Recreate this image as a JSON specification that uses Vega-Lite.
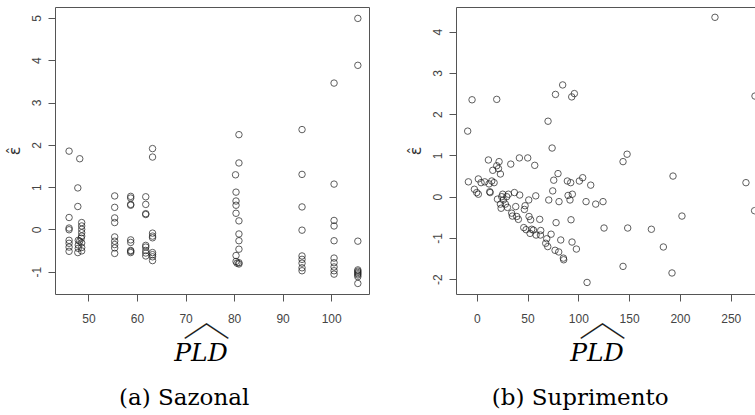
{
  "$schema": "https://vega.github.io/schema/vega-lite/v6.json",
  "padding": {"left": 5, "top": 6, "right": 0, "bottom": 0},
  "background": "white",
  "spacing": 37,
  "config": {
    "view": {"stroke": null},
    "axis": {
      "labelFont": "Liberation Sans", "labelFontSize": 12, "labelColor": "#444",
      "tickColor": "#555", "domainColor": "#555", "grid": false, "tickSize": 7,
      "titleFont": "Liberation Sans", "titleFontWeight": "normal", "titleColor": "#333"
    },
    "title": {
      "orient": "bottom", "anchor": "middle", "frame": "group",
      "font": "DejaVu Serif", "fontStyle": "italic", "fontSize": 25, "fontWeight": "normal", "color": "black",
      "subtitleFont": "DejaVu Serif", "subtitleFontStyle": "normal", "subtitleFontSize": 23, "subtitleColor": "black",
      "subtitlePadding": 21, "offset": -3
    }
  },
  "datasets": {
    "sazonal": [
      {"pld": 46.0, "res": 1.85}, {"pld": 46.0, "res": 0.28}, {"pld": 46.0, "res": 0.03}, {"pld": 46.0, "res": -0.01},
      {"pld": 46.0, "res": -0.26}, {"pld": 46.0, "res": -0.33}, {"pld": 46.0, "res": -0.42}, {"pld": 46.0, "res": -0.52},
      {"pld": 48.2, "res": 1.67}, {"pld": 47.8, "res": 0.98}, {"pld": 47.8, "res": 0.54}, {"pld": 48.6, "res": 0.16},
      {"pld": 48.6, "res": 0.08}, {"pld": 48.6, "res": 0.0}, {"pld": 48.6, "res": -0.08}, {"pld": 48.6, "res": -0.16},
      {"pld": 48.5, "res": -0.21}, {"pld": 47.9, "res": -0.26}, {"pld": 48.2, "res": -0.28}, {"pld": 48.6, "res": -0.32},
      {"pld": 47.9, "res": -0.37}, {"pld": 48.6, "res": -0.43}, {"pld": 47.9, "res": -0.45}, {"pld": 48.6, "res": -0.51},
      {"pld": 47.8, "res": -0.55},
      {"pld": 55.4, "res": 0.79}, {"pld": 55.4, "res": 0.52}, {"pld": 55.4, "res": 0.27}, {"pld": 55.4, "res": 0.16},
      {"pld": 55.4, "res": -0.18}, {"pld": 55.4, "res": -0.28}, {"pld": 55.4, "res": -0.36}, {"pld": 55.4, "res": -0.44},
      {"pld": 55.4, "res": -0.57},
      {"pld": 58.7, "res": 0.78}, {"pld": 58.7, "res": 0.74}, {"pld": 58.7, "res": 0.59}, {"pld": 58.7, "res": 0.57},
      {"pld": 58.7, "res": -0.25}, {"pld": 58.7, "res": -0.31}, {"pld": 58.7, "res": -0.5}, {"pld": 58.7, "res": -0.52},
      {"pld": 58.7, "res": -0.55},
      {"pld": 61.8, "res": 0.77}, {"pld": 61.8, "res": 0.59}, {"pld": 61.8, "res": 0.37}, {"pld": 61.8, "res": 0.35},
      {"pld": 61.8, "res": -0.38}, {"pld": 61.8, "res": -0.42}, {"pld": 61.8, "res": -0.5}, {"pld": 61.8, "res": -0.56},
      {"pld": 61.8, "res": -0.63},
      {"pld": 63.2, "res": 1.91}, {"pld": 63.2, "res": 1.71}, {"pld": 63.2, "res": -0.09}, {"pld": 63.2, "res": -0.16},
      {"pld": 63.2, "res": -0.2}, {"pld": 63.2, "res": -0.55}, {"pld": 63.2, "res": -0.6}, {"pld": 63.2, "res": -0.65},
      {"pld": 63.2, "res": -0.74},
      {"pld": 81.0, "res": 2.24}, {"pld": 81.0, "res": 1.57}, {"pld": 80.3, "res": 1.29}, {"pld": 80.4, "res": 0.88},
      {"pld": 80.4, "res": 0.67}, {"pld": 80.4, "res": 0.57}, {"pld": 80.4, "res": 0.38}, {"pld": 81.0, "res": 0.2},
      {"pld": 81.0, "res": -0.11}, {"pld": 81.0, "res": -0.27}, {"pld": 81.0, "res": -0.47}, {"pld": 80.4, "res": -0.62},
      {"pld": 80.4, "res": -0.76}, {"pld": 81.0, "res": -0.79}, {"pld": 80.6, "res": -0.8}, {"pld": 81.0, "res": -0.82},
      {"pld": 94.0, "res": 2.36}, {"pld": 94.0, "res": 1.3}, {"pld": 94.0, "res": 0.53}, {"pld": 94.0, "res": -0.02},
      {"pld": 94.0, "res": -0.63}, {"pld": 94.0, "res": -0.71}, {"pld": 94.0, "res": -0.8}, {"pld": 94.0, "res": -0.91},
      {"pld": 94.0, "res": -0.98},
      {"pld": 100.6, "res": 3.46}, {"pld": 100.6, "res": 1.07}, {"pld": 100.6, "res": 0.21}, {"pld": 100.6, "res": 0.08},
      {"pld": 100.6, "res": -0.27}, {"pld": 100.6, "res": -0.68}, {"pld": 100.6, "res": -0.79}, {"pld": 100.6, "res": -0.89},
      {"pld": 100.6, "res": -0.98}, {"pld": 100.6, "res": -1.06},
      {"pld": 105.5, "res": 4.99}, {"pld": 105.5, "res": 3.88}, {"pld": 105.5, "res": -0.28}, {"pld": 105.5, "res": -0.96},
      {"pld": 105.5, "res": -0.99}, {"pld": 105.5, "res": -1.02}, {"pld": 105.5, "res": -1.05}, {"pld": 105.5, "res": -1.08},
      {"pld": 105.5, "res": -1.12}, {"pld": 105.5, "res": -1.28}
    ],
    "suprimento": [
      {"pld": 234.5, "res": 4.35}, {"pld": 273.9, "res": 2.44}, {"pld": 265.0, "res": 0.34}, {"pld": 273.5, "res": -0.34},
      {"pld": -8.9, "res": 1.59}, {"pld": -4.6, "res": 2.35}, {"pld": 19.7, "res": 2.36}, {"pld": -8.2, "res": 0.36},
      {"pld": 1.6, "res": 0.43}, {"pld": -2.3, "res": 0.18}, {"pld": 0.0, "res": 0.1}, {"pld": 1.6, "res": 0.06},
      {"pld": 4.3, "res": 0.34}, {"pld": 7.9, "res": 0.36}, {"pld": 11.5, "res": 0.89}, {"pld": 12.1, "res": 0.31},
      {"pld": 12.8, "res": 0.12}, {"pld": 13.2, "res": 0.1}, {"pld": 14.8, "res": 0.38}, {"pld": 15.8, "res": 0.64},
      {"pld": 17.1, "res": 0.34}, {"pld": 19.7, "res": 0.75}, {"pld": 22.0, "res": 0.85}, {"pld": 21.4, "res": 0.68},
      {"pld": 23.3, "res": 0.55}, {"pld": 20.4, "res": -0.06}, {"pld": 23.3, "res": -0.18}, {"pld": 24.0, "res": -0.28},
      {"pld": 24.6, "res": 0.0}, {"pld": 25.6, "res": 0.06}, {"pld": 26.2, "res": -0.08}, {"pld": 28.2, "res": -0.18},
      {"pld": 29.5, "res": 0.0}, {"pld": 30.2, "res": -0.26}, {"pld": 31.2, "res": 0.06}, {"pld": 33.5, "res": 0.79},
      {"pld": 34.4, "res": -0.4}, {"pld": 35.1, "res": -0.47}, {"pld": 37.1, "res": 0.1}, {"pld": 38.4, "res": -0.24},
      {"pld": 39.4, "res": -0.48}, {"pld": 41.0, "res": -0.55}, {"pld": 42.0, "res": 0.94}, {"pld": 42.3, "res": 0.04},
      {"pld": 46.3, "res": -0.75}, {"pld": 46.9, "res": -0.31}, {"pld": 47.6, "res": -0.22}, {"pld": 48.6, "res": -0.8},
      {"pld": 50.2, "res": 0.94}, {"pld": 51.2, "res": -0.08}, {"pld": 51.5, "res": -0.48}, {"pld": 52.5, "res": -0.89},
      {"pld": 53.1, "res": -0.56}, {"pld": 54.1, "res": -0.79}, {"pld": 55.8, "res": -0.81}, {"pld": 57.1, "res": 0.76},
      {"pld": 58.1, "res": 0.02}, {"pld": 58.4, "res": -0.93}, {"pld": 62.0, "res": -0.55}, {"pld": 63.0, "res": -0.82},
      {"pld": 62.7, "res": -0.93}, {"pld": 67.9, "res": -1.13}, {"pld": 68.9, "res": -1.02}, {"pld": 69.9, "res": -1.21},
      {"pld": 70.2, "res": 1.83}, {"pld": 70.9, "res": -0.08}, {"pld": 73.2, "res": -0.91}, {"pld": 74.2, "res": 1.18},
      {"pld": 74.8, "res": 0.14}, {"pld": 75.8, "res": 0.4}, {"pld": 77.5, "res": 2.48}, {"pld": 78.1, "res": -0.63},
      {"pld": 77.1, "res": -1.3}, {"pld": 80.0, "res": 0.56}, {"pld": 81.0, "res": -0.12}, {"pld": 80.7, "res": -1.34},
      {"pld": 82.7, "res": -1.05}, {"pld": 84.6, "res": 2.71}, {"pld": 85.3, "res": -1.49}, {"pld": 85.6, "res": -1.53},
      {"pld": 89.2, "res": 0.38}, {"pld": 89.9, "res": 0.03}, {"pld": 91.8, "res": -0.08}, {"pld": 92.5, "res": 0.34},
      {"pld": 92.8, "res": -0.56}, {"pld": 93.8, "res": -1.1}, {"pld": 93.5, "res": 2.42}, {"pld": 96.1, "res": 2.5},
      {"pld": 94.1, "res": 0.06}, {"pld": 98.1, "res": -1.27}, {"pld": 101.0, "res": 0.38}, {"pld": 104.3, "res": 0.46},
      {"pld": 107.6, "res": -0.12}, {"pld": 108.6, "res": -2.08}, {"pld": 112.2, "res": 0.28}, {"pld": 117.1, "res": -0.18},
      {"pld": 124.3, "res": -0.12}, {"pld": 125.3, "res": -0.76}, {"pld": 144.0, "res": 0.85}, {"pld": 148.0, "res": 1.03},
      {"pld": 144.0, "res": -1.69}, {"pld": 148.6, "res": -0.76}, {"pld": 171.9, "res": -0.79}, {"pld": 183.7, "res": -1.22},
      {"pld": 193.2, "res": 0.5}, {"pld": 192.2, "res": -1.85}, {"pld": 202.0, "res": -0.47}
    ]
  },
  "hconcat": [
    {
      "width": 314,
      "height": 287,
      "data": {"name": "sazonal"},
      "view": {"stroke": "#555", "strokeWidth": 1},
      "title": {"text": "PLD", "subtitle": "(a) Sazonal\u2800\u2800", "dx": -11},
      "mark": {"type": "point", "shape": "circle", "filled": false, "size": 42, "strokeWidth": 1, "color": "#1a1a1a", "clip": true},
      "encoding": {
        "x": {
          "field": "pld", "type": "quantitative",
          "scale": {"domain": [43.1, 107.8], "nice": false, "zero": false},
          "axis": {"values": [50, 60, 70, 80, 90, 100], "domain": false, "labelPadding": 12,
                   "title": "︿", "titleFont": "Noto Sans CJK SC", "titleFontSize": 48, "titleFontWeight": 100, "titleColor": "#222",
                   "titleX": 151, "titlePadding": -28}
        },
        "y": {
          "field": "res", "type": "quantitative",
          "scale": {"domain": [-1.53, 5.26], "nice": false, "zero": false},
          "axis": {"values": [-1, 0, 1, 2, 3, 4, 5], "domain": false, "labelAngle": 270, "labelAlign": "center",
                   "labelBaseline": "bottom", "labelPadding": 5, "labelExpr": "replace(datum.label, '\u2212', '-')",
                   "title": "ε̂", "titleFont": "DejaVu Sans", "titleFontSize": 16, "titlePadding": 8}
        }
      }
    },
    {
      "width": 299,
      "height": 287,
      "data": {"name": "suprimento"},
      "title": {"text": "PLD", "subtitle": "(b) Suprimento\u2800\u2800", "dx": -8.5},
      "layer": [
        {
          "mark": {"type": "point", "shape": "circle", "filled": false, "size": 42, "strokeWidth": 1, "color": "#1a1a1a", "clip": true},
          "encoding": {
            "x": {
              "field": "pld", "type": "quantitative",
              "scale": {"domain": [-20.4, 273.9], "nice": false, "zero": false},
              "axis": {"values": [0, 50, 100, 150, 200, 250], "domain": true, "labelPadding": 12,
                       "title": "︿", "titleFont": "Noto Sans CJK SC", "titleFontSize": 48, "titleFontWeight": 100, "titleColor": "#222",
                       "titleX": 146, "titlePadding": -28}
            },
            "y": {
              "field": "res", "type": "quantitative",
              "scale": {"domain": [-2.36, 4.6], "nice": false, "zero": false},
              "axis": {"values": [-2, -1, 0, 1, 2, 3, 4], "domain": true, "labelAngle": 270, "labelAlign": "center",
                       "labelBaseline": "bottom", "labelPadding": 5, "labelExpr": "replace(datum.label, '\u2212', '-')",
                       "title": "ε̂", "titleFont": "DejaVu Sans", "titleFontSize": 16, "titlePadding": 8}
            }
          }
        },
        {
          "mark": {"type": "point", "opacity": 0, "clip": true},
          "encoding": {
            "x": {"field": "pld", "type": "quantitative",
                  "axis": {"orient": "top", "labels": false, "ticks": false, "domain": true, "title": null}}
          }
        }
      ],
      "resolve": {"axis": {"x": "independent"}}
    }
  ]
}
